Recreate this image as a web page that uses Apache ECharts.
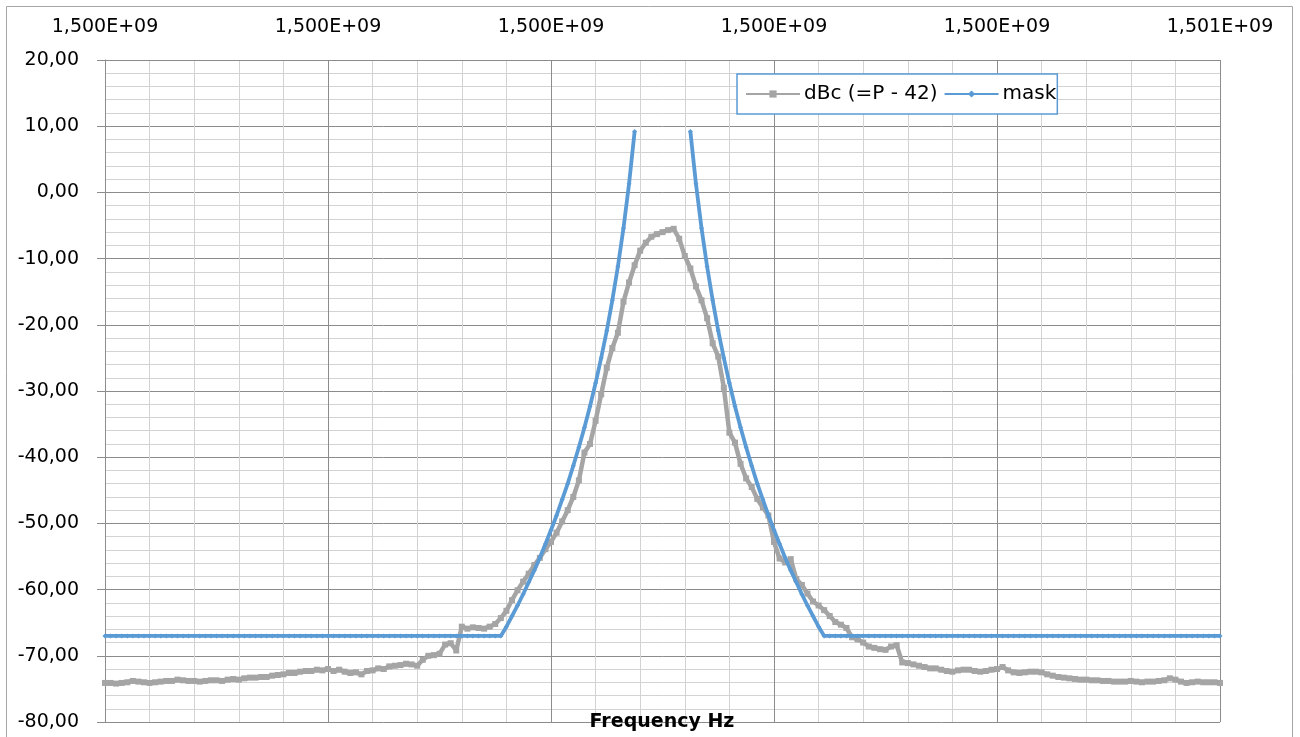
<!DOCTYPE html>
<html>
<head>
<meta charset="utf-8">
<script src="https://cdn.jsdelivr.net/npm/echarts@6/dist/echarts.min.js"></script>
<style>
html,body{margin:0;padding:0;background:#fff;}
#chart{width:1300px;height:737px;}
</style>
</head>
<body>
<div id="chart"></div>
<script>
// Sweep grid (Hz): first sample and step between samples
const freqStartHz = 1499500000;
const freqStepHz = 5000;
const freqSpanHz = 1000000;
const xTickStepHz = 200000;

const yMin = -80, yMax = 20, yTickStep = 10;

const seriesNames = ['dBc (=P - 42)', 'mask'];
const axisTitle = 'Frequency Hz';

// measured spectrum, dBc, one value per 5 kHz from 1.4995E+09 to 1.5005E+09
const dbcValues = [
  -74.1,-74.1,-74.2,-74.1,-74.0,-73.8,-73.9,-74.0,-74.1,-74.0,
  -73.9,-73.8,-73.8,-73.6,-73.7,-73.8,-73.8,-73.9,-73.8,-73.7,
  -73.7,-73.8,-73.6,-73.5,-73.6,-73.4,-73.3,-73.3,-73.2,-73.2,
  -73.0,-72.9,-72.8,-72.6,-72.6,-72.4,-72.3,-72.3,-72.1,-72.2,
  -72.0,-72.3,-72.1,-72.4,-72.6,-72.5,-72.8,-72.3,-72.2,-71.9,
  -72.0,-71.6,-71.5,-71.4,-71.2,-71.3,-71.5,-70.6,-70.0,-69.9,
  -69.7,-68.3,-68.1,-69.2,-65.6,-65.9,-65.7,-65.8,-65.9,-65.6,
  -65.2,-64.3,-63.2,-61.6,-60.1,-58.8,-57.6,-56.3,-55.2,-53.9,
  -52.8,-51.4,-49.7,-48.0,-46.0,-43.5,-39.3,-38.0,-34.5,-30.5,
  -26.5,-23.5,-21.2,-16.5,-13.6,-11.0,-8.8,-7.6,-6.7,-6.3,
  -6.0,-5.7,-5.5,-7.0,-9.6,-11.5,-14.2,-16.3,-19.0,-22.8,
  -24.8,-29.5,-36.3,-37.8,-41.0,-43.2,-44.5,-46.3,-47.6,-48.8,
  -52.8,-55.3,-55.9,-55.4,-58.4,-59.3,-60.6,-61.8,-62.4,-63.1,
  -64.0,-64.9,-65.3,-65.8,-67.2,-67.5,-68.0,-68.6,-68.8,-69.0,
  -69.1,-68.6,-68.4,-71.0,-71.1,-71.3,-71.5,-71.7,-71.9,-71.9,
  -72.1,-72.3,-72.4,-72.2,-72.1,-72.1,-72.3,-72.4,-72.3,-72.1,
  -72.0,-71.7,-72.2,-72.5,-72.6,-72.5,-72.4,-72.4,-72.5,-72.8,
  -73.0,-73.2,-73.3,-73.4,-73.5,-73.6,-73.6,-73.7,-73.7,-73.8,
  -73.8,-73.9,-73.9,-73.9,-73.8,-73.9,-74.0,-73.9,-73.9,-73.8,
  -73.7,-73.4,-73.6,-73.9,-74.1,-74.0,-73.9,-74.0,-74.0,-74.0,
  -74.1
];

// spectral mask, dBc, same grid (null = no mask point)
const maskValues = [
  -67,-67,-67,-67,-67,-67,-67,-67,-67,-67,
  -67,-67,-67,-67,-67,-67,-67,-67,-67,-67,
  -67,-67,-67,-67,-67,-67,-67,-67,-67,-67,
  -67,-67,-67,-67,-67,-67,-67,-67,-67,-67,
  -67,-67,-67,-67,-67,-67,-67,-67,-67,-67,
  -67,-67,-67,-67,-67,-67,-67,-67,-67,-67,
  -67,-67,-67,-67,-67,-67,-67,-67,-67,-67,
  -67,-67,-65.6,-64.0,-62.4,-60.7,-58.9,-57.1,-55.2,-53.1,
  -51.0,-48.8,-46.4,-44.0,-41.3,-38.5,-35.5,-32.3,-28.8,-25.0,
  -20.9,-16.3,-11.2,-5.4,1.3,9.2,null,null,null,null,
  null,null,null,null,null,9.2,1.3,-5.4,-11.2,-16.3,
  -20.9,-25.0,-28.8,-32.3,-35.5,-38.5,-41.3,-44.0,-46.4,-48.8,
  -51.0,-53.1,-55.2,-57.1,-58.9,-60.7,-62.4,-64.0,-65.6,-67,
  -67,-67,-67,-67,-67,-67,-67,-67,-67,-67,
  -67,-67,-67,-67,-67,-67,-67,-67,-67,-67,
  -67,-67,-67,-67,-67,-67,-67,-67,-67,-67,
  -67,-67,-67,-67,-67,-67,-67,-67,-67,-67,
  -67,-67,-67,-67,-67,-67,-67,-67,-67,-67,
  -67,-67,-67,-67,-67,-67,-67,-67,-67,-67,
  -67,-67,-67,-67,-67,-67,-67,-67,-67,-67,
  -67
];

function toPairs(arr){
  return arr.map((v, i) => [i * freqStepHz, v === null ? '-' : v]);
}
function excelSci(offset){
  const s = (freqStartHz + offset).toExponential(3);
  const parts = s.split('e');
  const exp = parseInt(parts[1], 10);
  return parts[0].replace('.', ',') + 'E' + (exp < 0 ? '-' : '+') + String(Math.abs(exp)).padStart(2, '0');
}
function decComma(v){ return v.toFixed(2).replace('.', ','); }

const FONT = 'DejaVu Sans';
const MAJOR = '#8C8C8C';
const MINOR = '#D3D3D3';

const chart = echarts.init(document.getElementById('chart'), null, {renderer: 'canvas'});
chart.setOption({
  animation: false,
  backgroundColor: '#fff',
  textStyle: {fontFamily: FONT},
  grid: {left: 105, right: 80, top: 60, bottom: 15, containLabel: false},
  legend: {
    data: seriesNames,
    left: 737, top: 74,
    orient: 'horizontal',
    backgroundColor: '#fff',
    borderColor: '#5B9BD5',
    borderWidth: 1.5,
    borderRadius: 0,
    padding: [10, 1, 10, 8],
    itemGap: 6,
    itemWidth: 54,
    itemHeight: 9,
    textStyle: {fontFamily: FONT, fontSize: 20, color: '#000', padding: [0, 0, 0, -1]}
  },
  xAxis: {
    type: 'value',
    position: 'top',
    min: 0, max: freqSpanHz, interval: xTickStepHz,
    axisLine: {show: true, onZero: false, lineStyle: {color: MAJOR, width: 1}},
    axisTick: {show: false},
    axisLabel: {formatter: excelSci, fontSize: 19, color: '#000', margin: 23, fontFamily: FONT},
    splitLine: {show: true, lineStyle: {color: MAJOR, width: 1}},
    minorTick: {show: false, splitNumber: 5},
    minorSplitLine: {show: true, lineStyle: {color: MINOR, width: 1}}
  },
  yAxis: {
    type: 'value',
    min: yMin, max: yMax, interval: yTickStep,
    axisLine: {show: true, onZero: false, lineStyle: {color: MAJOR, width: 1}},
    axisTick: {show: true, inside: false, length: 8, lineStyle: {color: MAJOR}},
    axisLabel: {formatter: decComma, fontSize: 19, color: '#000', margin: 26, fontFamily: FONT},
    splitLine: {show: true, lineStyle: {color: MAJOR, width: 1}},
    minorTick: {show: false, splitNumber: 5},
    minorSplitLine: {show: true, lineStyle: {color: MINOR, width: 1}}
  },
  graphic: [
    {type: 'rect', silent: true, z: -10,
     shape: {x: 6.5, y: 6.5, width: 1286, height: 745},
     style: {fill: 'none', stroke: '#A6A6A6', lineWidth: 1}},
    {type: 'text', silent: true, z: 100, x: 662, y: 722,
     style: {text: axisTitle, font: 'bold 19px "DejaVu Sans"', fill: '#000', textAlign: 'center', textVerticalAlign: 'middle'}}
  ],
  series: [
    {
      name: seriesNames[0],
      type: 'line',
      data: toPairs(dbcValues),
      showSymbol: true, showAllSymbol: true,
      symbol: 'rect', symbolSize: 6,
      itemStyle: {color: '#A5A5A5'},
      lineStyle: {color: '#A5A5A5', width: 4.5},
      emphasis: {disabled: true},
      z: 2
    },
    {
      name: seriesNames[1],
      type: 'line',
      data: toPairs(maskValues),
      connectNulls: false,
      showSymbol: true, showAllSymbol: true,
      symbol: 'diamond', symbolSize: 5,
      itemStyle: {color: '#5B9BD5'},
      lineStyle: {color: '#5B9BD5', width: 3.8},
      emphasis: {disabled: true},
      z: 3
    }
  ]
});
</script>
</body>
</html>
